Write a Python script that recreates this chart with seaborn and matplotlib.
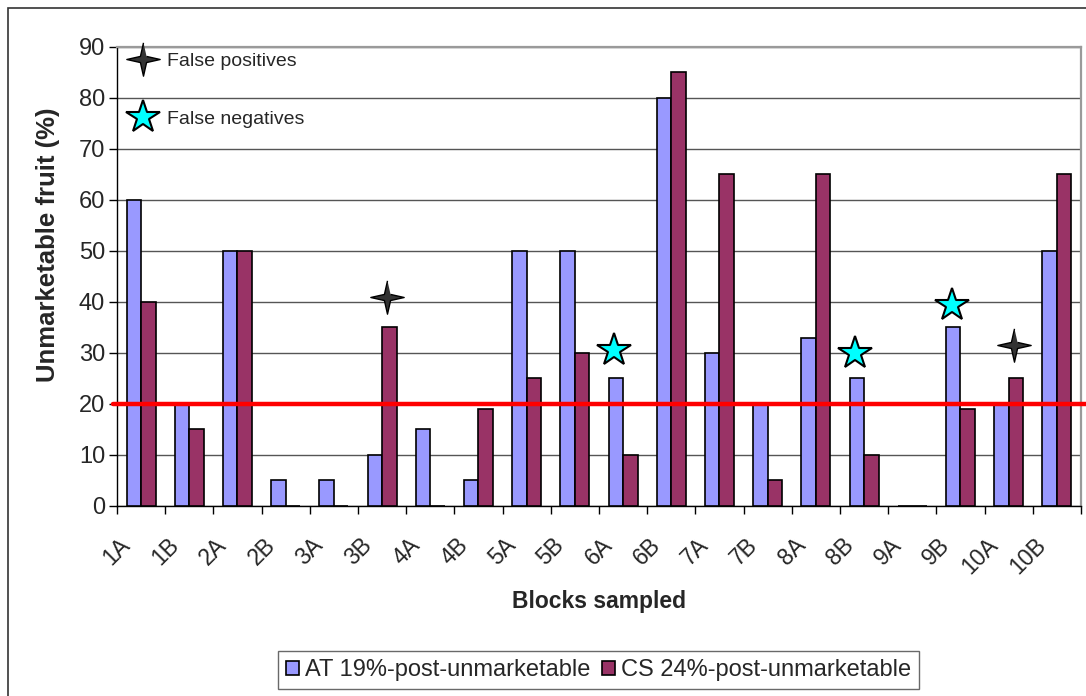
import numpy as np
import pandas as pd
import seaborn as sns
import matplotlib.pyplot as plt
import matplotlib.transforms as mtransforms
from matplotlib.path import Path
from matplotlib.patches import Patch, Rectangle
from matplotlib.lines import Line2D

# data
blocks = ["1A", "1B", "2A", "2B", "3A", "3B", "4A", "4B", "5A", "5B",
          "6A", "6B", "7A", "7B", "8A", "8B", "9A", "9B", "10A", "10B"]
at_post = [60, 20, 50, 5, 5, 10, 15, 5, 50, 50, 25, 80, 30, 20, 33, 25, 0, 35, 20, 50]
cs_post = [40, 15, 50, 0, 0, 35, 0, 19, 25, 30, 10, 85, 65, 5, 65, 10, 0, 19, 25, 65]
series_names = ["AT 19%-post-unmarketable", "CS 24%-post-unmarketable"]
series_colors = ["#9999FF", "#993366"]
threshold = 20

false_pos_blocks = ["3B", "10A"]
false_pos_y = [41, 31.5]
false_neg_blocks = ["6A", "8B", "9B"]
false_neg_y = [30.5, 30, 39.5]

df = pd.DataFrame({
    "block": blocks * 2,
    "pct": at_post + cs_post,
    "series": [series_names[0]] * len(blocks) + [series_names[1]] * len(blocks),
})

sns.set_style("white")
plt.rcParams['font.family'] = ['Liberation Sans', 'DejaVu Sans']

fig = plt.figure(figsize=(10.86, 6.96), dpi=100)
ax = fig.add_axes([0.1077, 0.273, 0.8877, 0.6595])

sns.barplot(data=df, x="block", y="pct", hue="series", palette=series_colors,
            saturation=1, width=0.6, edgecolor="black", linewidth=1.2,
            errorbar=None, legend=False, ax=ax, zorder=3)

# threshold line, a bit past the axes like the original
ax.axhline(threshold, xmin=-0.004, xmax=1.005, color="red", lw=3.2,
           clip_on=False, zorder=4)

# 4 point star marker
ang = np.pi / 2 + np.arange(8) * np.pi / 4
rad = np.where(np.arange(8) % 2 == 0, 1.0, 0.26)
star4 = Path(np.column_stack([rad * np.cos(ang), rad * np.sin(ang)]))

fp_x = [blocks.index(b) + 0.1 for b in false_pos_blocks]
fn_x = [blocks.index(b) - 0.18 for b in false_neg_blocks]
ax.plot(fp_x, false_pos_y, ls="none", marker=star4, ms=24, mfc="#333333",
        mec="black", mew=1, zorder=5)
ax.plot(fn_x, false_neg_y, ls="none", marker="*", ms=25, mfc="#00FFFF",
        mec="black", mew=1.5, zorder=5)

ax.set_xlim(-0.5, len(blocks) - 0.5)
ax.set_ylim(0, 90)
ax.set_yticks(range(0, 91, 10))
ax.set_xticks(np.arange(len(blocks) + 1) - 0.5, minor=True)
ax.set_xticks(range(len(blocks)), blocks, rotation=45, ha="right", va="top",
              fontsize=16.5)

ax.tick_params(axis="x", which="major", length=0, pad=20)
ax.tick_params(axis="x", which="minor", length=5.5, width=1, direction="out",
               color="black", bottom=True)
ax.tick_params(axis="y", which="major", length=5.5, width=1, direction="out",
               color="black", left=True, labelsize=17, pad=3)

# nudge the rotated labels left (after tick_params, which resets transforms)
shift = mtransforms.ScaledTranslation(-0.06, 0, fig.dpi_scale_trans)
for lbl in ax.get_xticklabels():
    lbl.set_transform(lbl.get_transform() + shift)

ax.yaxis.grid(True, color="#555555", lw=1)
ax.xaxis.grid(False)
ax.set_axisbelow(True)

for side in ["top", "right"]:
    ax.spines[side].set_color("#9a9a9a")
    ax.spines[side].set_linewidth(1.6)
for side in ["left", "bottom"]:
    ax.spines[side].set_color("black")
    ax.spines[side].set_linewidth(1)

ax.set_xlabel("Blocks sampled", fontsize=16.5, fontweight="bold")
ax.xaxis.set_label_coords(0.5, -0.184)
ax.set_ylabel("Unmarketable fruit (%)", fontsize=18.5, fontweight="bold")
ax.yaxis.set_label_coords(-0.059, 0.569)

# marker key in the top left
key_handles = [
    Line2D([], [], ls="none", marker=star4, ms=24, mfc="#333333", mec="black", mew=1),
    Line2D([], [], ls="none", marker="*", ms=25, mfc="#00FFFF", mec="black", mew=1.5),
]
ax.legend(key_handles, ["False positives", "False negatives"], loc="upper left",
          bbox_to_anchor=(0.0114, 0.988), frameon=False, fontsize=14,
          labelspacing=2.05, handlelength=1.5, handletextpad=0.5,
          borderpad=0, borderaxespad=0)

# series legend at the bottom
bar_handles = [Patch(fc=c, ec="black", lw=1.2) for c in series_colors]
leg = fig.legend(bar_handles, series_names, loc="center",
                 bbox_to_anchor=(0.551, 0.0374), ncol=2, frameon=True,
                 fancybox=False, edgecolor="#444444", fontsize=17,
                 handlelength=0.55, handleheight=0.55, handletextpad=0.25,
                 columnspacing=0.5, borderpad=0.35)
leg.get_frame().set_linewidth(1)

# outer chart frame (cut off at right and bottom in the original)
fig.patches.append(Rectangle((8 / 1086, -0.05), 1.0, 1 - 8 / 696 + 0.05,
                             transform=fig.transFigure, fill=False,
                             ec="#333333", lw=1.2, zorder=0))

fig.savefig("out.png", dpi=100)
